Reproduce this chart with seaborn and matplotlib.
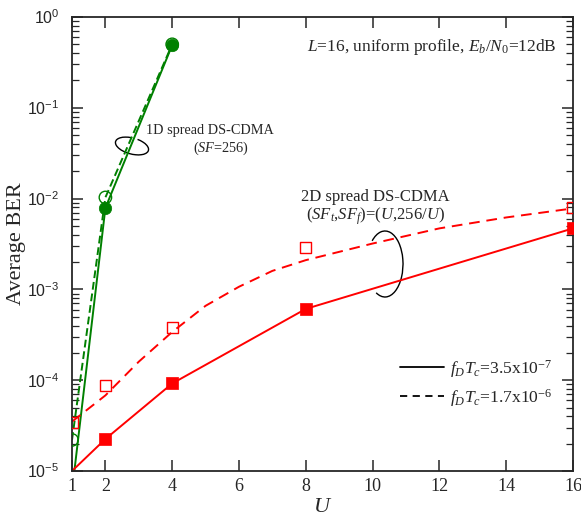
import numpy as np
import pandas as pd
import matplotlib
matplotlib.use("Agg")
import matplotlib.pyplot as plt
import seaborn as sns
from matplotlib.patches import Arc
from matplotlib.lines import Line2D
from matplotlib.ticker import FixedLocator, FuncFormatter, NullLocator

# ---------------- data ----------------
U_1d = [1, 2, 4]
ber_1d_slow = [6.0e-6, 7.9e-3, 0.49]      # solid, filled circles
ber_1d_fast = [2.2e-5, 1.03e-2, 0.50]     # dashed, open circles

U_2d = [1, 2, 4, 8, 16]
ber_2d_slow = [1.0e-5, 2.25e-5, 9.2e-5, 6.1e-4, 4.7e-3]   # solid line + filled squares
ber_2d_fast_sim = [3.4e-5, 8.7e-5, 3.8e-4, 2.9e-3, 7.9e-3]  # open squares

U_2d_curve = [1, 2, 3, 4, 5, 6, 7, 8, 10, 12, 14, 16]
ber_2d_fast_curve = [3.5e-5, 6.8e-5, 1.6e-4, 3.4e-4, 6.6e-4, 1.07e-3, 1.6e-3,
                     2.1e-3, 3.2e-3, 4.7e-3, 6.2e-3, 7.8e-3]

x_ticks = [1, 2, 4, 6, 8, 10, 12, 14, 16]
y_decades = [-5, -4, -3, -2, -1, 0]
legend_labels = [r"$f_DT_c$=3.5x10$^{-7}$", r"$f_DT_c$=1.7x10$^{-6}$"]

GREEN = "#008000"
RED = "#ff0000"

# ---------------- style ----------------
sns.set_style("ticks")
plt.rcParams["font.family"] = ["Liberation Serif", "DejaVu Serif"]
plt.rcParams["mathtext.fontset"] = "custom"
plt.rcParams["mathtext.rm"] = "Liberation Serif"
plt.rcParams["mathtext.it"] = "Liberation Serif:italic"
plt.rcParams["mathtext.sf"] = "Liberation Sans"

fig = plt.figure(figsize=(5.81, 5.22), dpi=100)
ax = fig.add_axes([72 / 581, 1 - 471 / 522, 501 / 581, 454 / 522])

# ---------------- 1D spread ----------------
sns.lineplot(x=U_1d, y=ber_1d_slow, ax=ax, color=GREEN, lw=1.4, sort=False)
sns.lineplot(x=U_1d, y=ber_1d_fast, ax=ax, color=GREEN, lw=1.4, sort=False,
             linestyle=(0, (4, 2)))
sns.scatterplot(x=U_1d, y=ber_1d_fast, ax=ax, marker="o", s=80,
                facecolor="none", edgecolor=GREEN, linewidth=1.0, zorder=3)
sns.scatterplot(x=U_1d, y=ber_1d_slow, ax=ax, marker="o", s=80,
                color=GREEN, edgecolor=GREEN, linewidth=0.5, zorder=4)

# ---------------- 2D spread ----------------
sns.lineplot(x=U_2d, y=ber_2d_slow, ax=ax, color=RED, lw=1.4, sort=False)
sns.lineplot(x=U_2d_curve, y=ber_2d_fast_curve, ax=ax, color=RED, lw=1.4,
             sort=False, linestyle=(0, (5.5, 3.5)))
sns.scatterplot(x=U_2d[1:], y=ber_2d_slow[1:], ax=ax, marker="s", s=65,
                color=RED, edgecolor=RED, linewidth=0.5, zorder=4)
sns.scatterplot(x=U_2d, y=ber_2d_fast_sim, ax=ax, marker="s", s=65,
                facecolor="none", edgecolor=RED, linewidth=1.0, zorder=3)

# ---------------- axes ----------------
ax.set_yscale("log")
ax.set_xlim(1, 16)
ax.set_ylim(1e-5, 1)
ax.set_xlabel(r"$U$", fontsize=16, labelpad=2)
ax.set_ylabel("Average BER", fontsize=16, labelpad=1)

# ---------------- annotations ----------------
ax.text(0.968, 0.933, r"$L$=16, uniform profile, $E_b$/$N_0$=12dB",
        transform=ax.transAxes, ha="right", va="center", fontsize=12.5)

ax.text(0.275, 0.751, "1D spread DS-CDMA", transform=ax.transAxes,
        ha="center", va="center", fontsize=10.3)
ax.text(0.297, 0.711, r"($SF$=256)", transform=ax.transAxes,
        ha="center", va="center", fontsize=10.3)

ax.text(0.605, 0.604, "2D spread DS-CDMA", transform=ax.transAxes,
        ha="center", va="center", fontsize=12)
ax.text(0.605, 0.562, r"($SF_t$,$SF_f$)=($U$,256/$U$)", transform=ax.transAxes,
        ha="center", va="center", fontsize=12)

ident = matplotlib.transforms.IdentityTransform()
ax.add_patch(Arc((132, 522 - 146), 34, 16, angle=-15, theta1=110, theta2=425,
                 transform=ident, color="black", lw=1.0, clip_on=False))
ax.add_patch(Arc((385, 522 - 264), 36, 66, angle=0, theta1=-107, theta2=119,
                 transform=ident, color="black", lw=1.0, clip_on=False))

# ---------------- legend ----------------
handles = [Line2D([], [], color="black", lw=1.3),
           Line2D([], [], color="black", lw=1.3, linestyle=(0, (4, 3)))]
ax.legend(handles, legend_labels, loc="upper left",
          bbox_to_anchor=((400 - 72) / 501, (471 - 358) / 454),
          frameon=False, fontsize=12.6, handlelength=2.5, handletextpad=0.35,
          borderpad=0, borderaxespad=0, labelspacing=0.4)

# ---------------- ticks ----------------
ax.xaxis.set_major_locator(FixedLocator(x_ticks))
ax.set_xticklabels([str(t) for t in x_ticks])
ax.xaxis.set_minor_locator(NullLocator())

# all y tick positions (decades + intermediate) as one ordered list;
# labels only at the decades, shorter marks in between
y_tick_locs = sorted([10.0 ** e for e in y_decades] +
                     [m * 10.0 ** e for e in y_decades[:-1] for m in range(2, 10)])


def is_decade(v):
    lv = np.log10(v)
    return abs(lv - round(lv)) < 1e-9


ax.yaxis.set_major_locator(FixedLocator(y_tick_locs))
ax.yaxis.set_minor_locator(NullLocator())
ax.yaxis.set_major_formatter(FuncFormatter(
    lambda v, p: (r"$\mathsf{10^{%d}}$" % int(round(np.log10(v)))) if is_decade(v) else ""))

ax.tick_params(axis="both", which="major", direction="in", top=True, right=True,
               length=8, width=1.1)
ax.tick_params(axis="x", labelsize=13, pad=5)
ax.tick_params(axis="y", labelsize=11.5, pad=9)
for sp in ax.spines.values():
    sp.set_linewidth(1.3)

fig.canvas.draw()
y_ticks_objs = ax.yaxis.get_major_ticks(len(y_tick_locs))
for tick, loc in zip(y_ticks_objs, y_tick_locs):
    if not is_decade(loc):
        tick.tick1line.set_markersize(5)
        tick.tick2line.set_markersize(5)
        tick.tick1line.set_markeredgewidth(0.9)
        tick.tick2line.set_markeredgewidth(0.9)

fig.savefig("out.png", dpi=100)
